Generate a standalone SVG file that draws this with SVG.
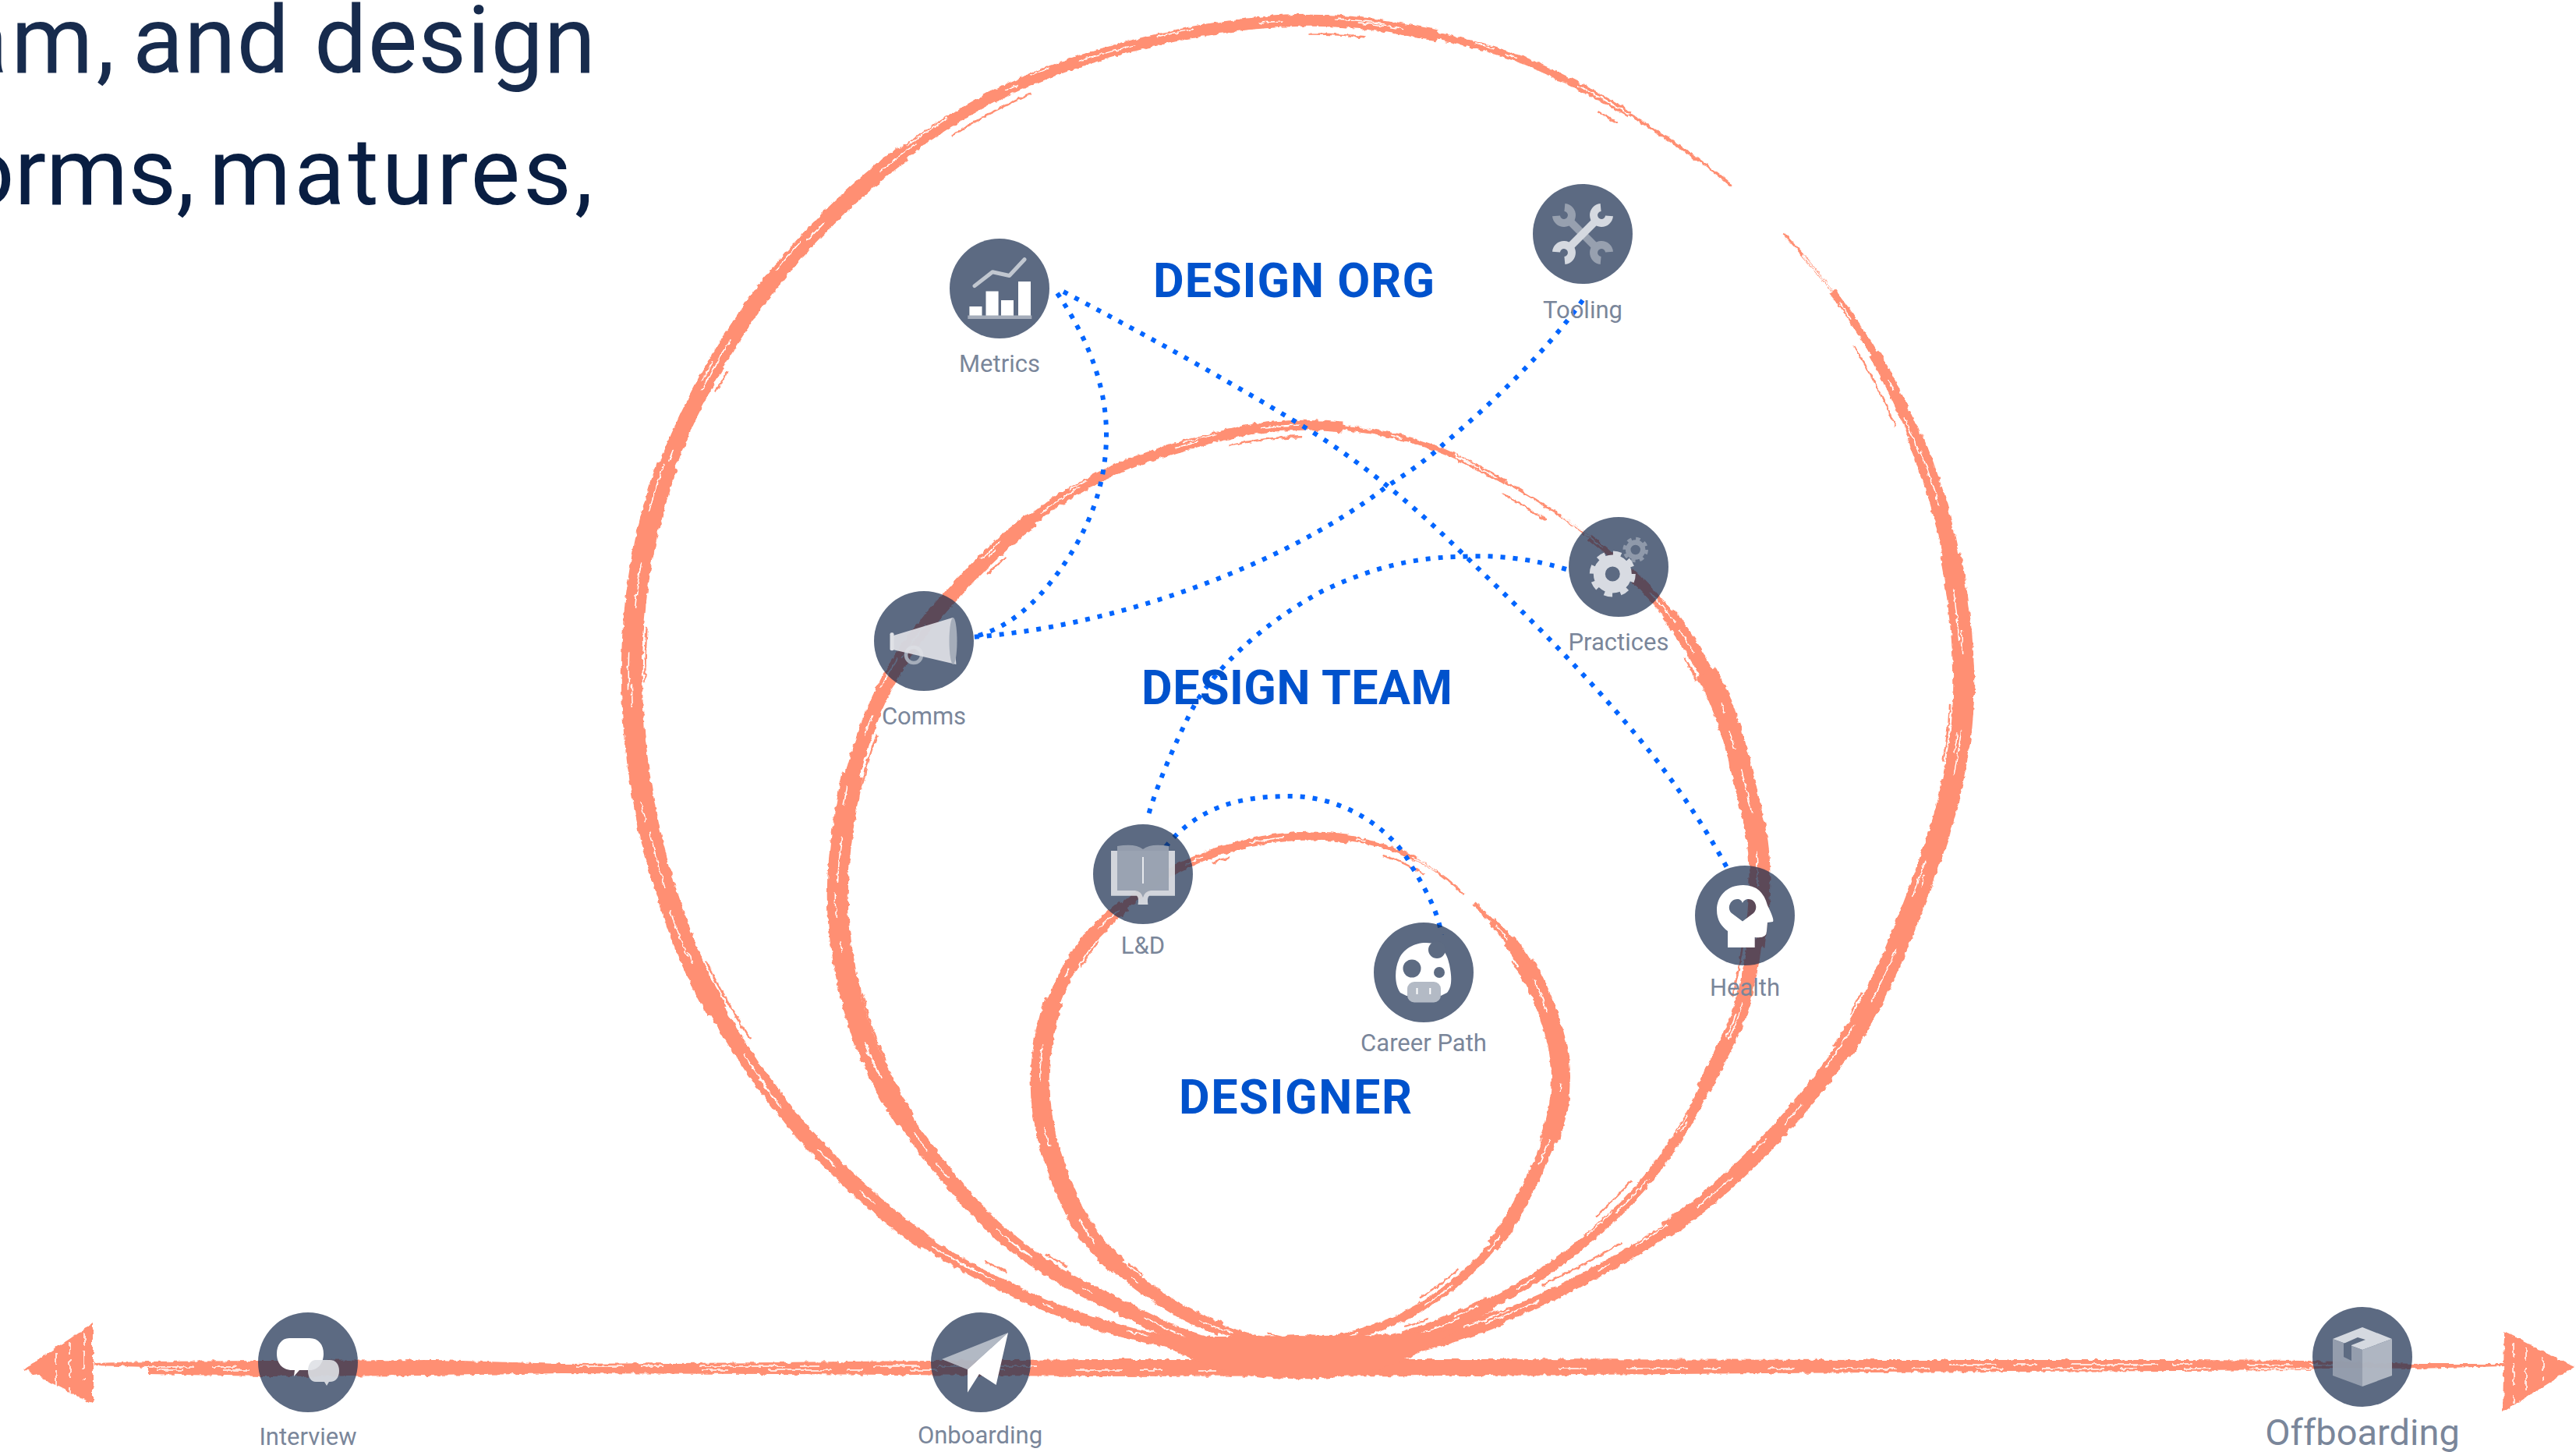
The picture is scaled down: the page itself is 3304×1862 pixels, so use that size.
<svg xmlns="http://www.w3.org/2000/svg" width="3304" height="1862" viewBox="0 0 3304 1862">
<style>
.b{fill:none;stroke:#FF8F73;stroke-linecap:butt;stroke-linejoin:round}
.s{fill:none;stroke:#fff;stroke-width:1.5}
.f{fill:none;stroke:#FF8F73;stroke-width:2.5}
.c{fill:none;stroke:#0065FF;stroke-width:6;stroke-dasharray:6 10}
.disc{fill:#172B4D;opacity:.7}
.lab{font-family:Roboto,"Noto Sans",sans-serif;font-size:31px;fill:#7A869A;text-anchor:middle}
.head{font-family:Roboto,"Noto Sans",sans-serif;font-size:61px;font-weight:700;fill:#0052CC}
.title{font-family:Roboto,"Noto Sans",sans-serif;font-size:120px}
.dk{fill:#5D6B82}
</style>
<defs>
<filter id="rough" filterUnits="userSpaceOnUse" x="0" y="0" width="3304" height="1862">
<feTurbulence type="fractalNoise" baseFrequency="0.13" numOctaves="2" seed="7"/>
<feDisplacementMap in="SourceGraphic" scale="6" xChannelSelector="R" yChannelSelector="G"/>
</filter>
<path id="big" pathLength="1000" d="M1665,1748 Q1500,1725 1428,1704 Q1357,1683 1304,1657 Q1251,1632 1206,1605 Q1162,1579 1124,1545 Q1086,1512 1045,1469 Q1005,1426 967,1371 Q930,1317 900,1260 Q871,1202 846,1116 Q822,1030 814,945 Q806,860 815,775 Q824,689 852,608 Q880,528 935,439 Q990,350 1076,267 Q1162,184 1262,130 Q1363,76 1511,45 Q1660,14 1780,34 Q1900,54 1967,83 Q2034,112 2105,156 Q2177,201 2230,245 Q2284,290 2337,357 Q2391,424 2424,491 Q2458,558 2480,625 Q2502,692 2513,786 Q2524,880 2514,948 Q2504,1015 2488,1066 Q2471,1118 2442,1192 Q2413,1267 2380,1321 Q2346,1376 2301,1428 Q2257,1480 2201,1528 Q2145,1577 2078,1614 Q2012,1652 1956,1676 Q1900,1701 1840,1718 Q1780,1735 1665,1748"/>
<path id="mid" pathLength="1000" d="M1665,1748 Q1540,1725 1500,1707 Q1460,1688 1389,1652 Q1318,1615 1273,1572 Q1229,1529 1188,1474 Q1148,1420 1126,1374 Q1104,1328 1093,1284 Q1082,1240 1077,1197 Q1072,1155 1076,1107 Q1080,1060 1090,1010 Q1100,961 1122,909 Q1144,857 1178,813 Q1213,769 1259,723 Q1305,677 1357,642 Q1409,608 1472,586 Q1535,565 1597,552 Q1660,540 1731,549 Q1802,558 1854,580 Q1907,603 1970,641 Q2033,680 2083,727 Q2133,774 2158,812 Q2183,850 2200,885 Q2217,921 2230,972 Q2243,1024 2252,1068 Q2262,1113 2252,1199 Q2240,1285 2222,1322 Q2204,1359 2183,1402 Q2163,1445 2132,1488 Q2101,1531 2056,1571 Q2012,1612 1967,1640 Q1922,1669 1856,1697 Q1790,1725 1665,1748"/>
<path id="sml" pathLength="1000" d="M1665,1730 Q1580,1712 1540,1694 Q1500,1677 1451,1638 Q1402,1600 1379,1555 Q1357,1510 1343,1460 Q1330,1410 1335,1360 Q1340,1310 1358,1268 Q1377,1227 1402,1198 Q1428,1170 1476,1135 Q1524,1100 1597,1082 Q1671,1065 1741,1077 Q1812,1090 1860,1131 Q1908,1173 1933,1203 Q1959,1233 1980,1285 Q2002,1340 2002,1380 Q2002,1420 1988,1460 Q1973,1500 1946,1550 Q1920,1600 1875,1638 Q1830,1677 1785,1695 Q1741,1713 1665,1730"/>
<g id="wrench" fill="none" stroke="currentColor" stroke-width="10">
<path d="M-7.7,-40.4 A10,10 0 1 0 7.7,-40.4"/>
<path d="M-7.7,40.4 A10,10 0 1 1 7.7,40.4"/>
<path d="M0,-25 V25"/>
</g>
</defs>

<text class="title" y="93" fill="#172B4D"><tspan x="-55" letter-spacing="4">am,</tspan> <tspan x="170" letter-spacing="1">and design</tspan></text>
<text class="title" y="262" fill="#091E42"><tspan x="-50">orms,</tspan> <tspan x="268" letter-spacing="4">matures,</tspan></text>

<g id="brush" filter="url(#rough)">
<path fill="#FF8F73" d="M120,1748 190,1746 340,1745 560,1744 720,1749 1000,1747 1400,1743 1900,1743 2400,1744 2800,1744 2960,1745 3040,1747 3100,1749 3212,1749 3212,1752 3100,1755 3000,1754 2960,1757 2800,1758 2400,1760 1900,1764 1400,1765 1000,1762 720,1761 560,1764 340,1765 190,1762 190,1753 120,1751Z"/>
<path class="s" d="M190,1753H330M740,1752H1330M1380,1757H1560M2500,1750H3000" stroke-dasharray="60 22 30 45 110 18 26 70"/>
<path class="s" d="M200,1757H320M900,1757H1290M2000,1755H3000" stroke-dasharray="35 50 80 20 22 60"/>
<path fill="#FF8F73" d="M31,1756 119,1697 119,1800Z"/>
<path class="s" d="M72,1735V1780M90,1722V1790M108,1710V1770" stroke-dasharray="14 9 22 12"/>
<path fill="#FF8F73" d="M3302,1753 3212,1708 3210,1811Z"/>
<path class="s" d="M3224,1722V1800M3240,1728V1790M3262,1740V1770" stroke-dasharray="18 7 30 12"/>

<g id="ringBig">
<use href="#big" class="b" stroke-width="9" stroke-dasharray="0 0 585 2000"/>
<use href="#big" class="b" stroke-width="4" stroke-dasharray="0 585 30 2000"/>
<use href="#big" class="b" stroke-width="3" stroke-dasharray="0 632 18 2000"/>
<use href="#big" class="b" stroke-width="9" stroke-dasharray="0 650 350 2000"/>
<use href="#big" class="b" stroke-width="15" stroke-dasharray="0 0 535 2000"/>
<use href="#big" class="b" stroke-width="15" stroke-dasharray="0 668 332 2000"/>
<use href="#big" class="b" stroke-width="21" stroke-dasharray="0 95 305 2000"/>
<use href="#big" class="b" stroke-width="21" stroke-dasharray="0 690 215 2000"/>
<use href="#big" class="b" stroke-width="21" stroke-dasharray="0 950 50 2000"/>
<use href="#big" class="b" stroke-width="27" stroke-dasharray="0 170 135 2000"/>
<use href="#big" class="b" stroke-width="27" stroke-dasharray="0 720 125 2000"/>
<use href="#big" class="f" stroke-dasharray="14 60 6 80 22 70" transform="translate(1665 890) scale(.98) translate(-1665 -890)"/>
<use href="#big" class="s" stroke-dasharray="6 18 11 25 3 16 14 30"/>
<use href="#big" class="s" stroke-dasharray="5 27 9 34 12 22" transform="translate(-4 -3)"/>
</g>
<g id="ringMid">
<use href="#mid" class="b" stroke-width="7" stroke-dasharray="0 0 575 2000"/>
<use href="#mid" class="b" stroke-width="3" stroke-dasharray="0 575 35 2000"/>
<use href="#mid" class="b" stroke-width="7" stroke-dasharray="0 610 390 2000"/>
<use href="#mid" class="b" stroke-width="13" stroke-dasharray="0 0 515 2000"/>
<use href="#mid" class="b" stroke-width="13" stroke-dasharray="0 628 372 2000"/>
<use href="#mid" class="b" stroke-width="19" stroke-dasharray="0 0 400 2000"/>
<use href="#mid" class="b" stroke-width="19" stroke-dasharray="0 648 175 2000"/>
<use href="#mid" class="b" stroke-width="19" stroke-dasharray="0 930 70 2000"/>
<use href="#mid" class="b" stroke-width="27" stroke-dasharray="0 165 125 2000"/>
<use href="#mid" class="b" stroke-width="27" stroke-dasharray="0 672 98 2000"/>
<use href="#mid" class="f" stroke-dasharray="18 70 9 90 26 75" transform="translate(1665 1150) scale(.975) translate(-1665 -1150)"/>
<use href="#mid" class="s" stroke-dasharray="8 22 14 32 4 20 16 36"/>
<use href="#mid" class="s" stroke-dasharray="7 36 12 45 9 30" transform="translate(-3 -3)"/>
</g>
<g id="ringSml">
<use href="#sml" class="b" stroke-width="6" stroke-dasharray="0 0 575 2000"/>
<use href="#sml" class="b" stroke-width="3" stroke-dasharray="0 575 37 2000"/>
<use href="#sml" class="b" stroke-width="6" stroke-dasharray="0 620 380 2000"/>
<use href="#sml" class="b" stroke-width="11" stroke-dasharray="0 0 530 2000"/>
<use href="#sml" class="b" stroke-width="11" stroke-dasharray="0 636 364 2000"/>
<use href="#sml" class="b" stroke-width="17" stroke-dasharray="0 50 330 2000"/>
<use href="#sml" class="b" stroke-width="17" stroke-dasharray="0 652 208 2000"/>
<use href="#sml" class="b" stroke-width="24" stroke-dasharray="0 125 180 2000"/>
<use href="#sml" class="b" stroke-width="24" stroke-dasharray="0 670 115 2000"/>
<use href="#sml" class="f" stroke-dasharray="20 90 12 100 30 80" transform="translate(1665 1400) scale(.965) translate(-1665 -1400)"/>
<use href="#sml" class="s" stroke-dasharray="12 30 22 45 6 30 18 50"/>
</g>
<path fill="#FF8F73" d="M1470,1712 Q1590,1716 1665,1712 Q1760,1716 1870,1705 Q1775,1772 1665,1768 Q1560,1770 1470,1712Z"/>
</g>

<g id="connectors">
<path class="c" d="M1356,376 Q1420,470 1419,560 Q1418,660 1345,750 Q1300,805 1247,817"/>
<path class="c" d="M1364,374 C1470,430 1570,485 1672,547 C1745,592 1810,645 1872,706 C1965,795 2050,880 2124,974 C2165,1027 2195,1075 2219,1120"/>
<path class="c" d="M2030,385 C1980,455 1910,520 1851,570 C1830,590 1800,610 1777,625 C1640,730 1420,805 1247,817"/>
<path class="c" d="M2009,730 C1950,712 1900,712 1872,714 C1800,715 1745,735 1696,758 C1610,805 1560,860 1535,899 C1520,925 1485,1000 1471,1052"/>
<path class="c" d="M1495,1086 C1540,1030 1600,1021 1654,1021 C1730,1021 1790,1070 1810,1110 C1835,1150 1845,1175 1849,1199"/>
</g>

<g id="heading-org"><text class="head" x="1479" y="381" textLength="361" lengthAdjust="spacing">DESIGN ORG</text></g>
<g id="heading-team"><text class="head" x="1464" y="903" textLength="399" lengthAdjust="spacing">DESIGN TEAM</text></g>
<g id="heading-designer"><text class="head" x="1512" y="1428" textLength="299" lengthAdjust="spacing">DESIGNER</text></g>

<g id="metrics"><g transform="translate(1282 370)"><circle class="disc" r="64"/>
<path d="M-32,-3.4 L-9,-21.3 12.6,-16.5 32,-37.3" fill="none" stroke="#C1C7D0" stroke-width="5" stroke-linecap="round" stroke-linejoin="round"/>
<path fill="#fff" d="M-38.6,23H-22.5V35H-38.6ZM-17.5,3.4H-1.4V35H-17.5ZM2,15H18V35H2ZM24,-9H40V35H24Z"/>
<rect x="-40.7" y="34.5" width="82" height="4.5" fill="#A5ADBA"/></g>
<text class="lab" x="1282" y="477">Metrics</text></g>

<g id="tooling"><g transform="translate(2030 300)"><circle class="disc" r="64"/>
<use href="#wrench" color="#97A0AF" transform="rotate(-45)"/>
<use href="#wrench" color="#D5D9E0" transform="rotate(45)"/></g>
<text class="lab" x="2030" y="408">Tooling</text></g>

<g id="comms"><g transform="translate(1185 822)"><circle class="disc" r="64"/>
<circle cx="-13" cy="18" r="10" fill="none" stroke="#A5ADBA" stroke-width="4.5"/>
<path fill="#DFE1E6" opacity=".92" d="M-40,-6.8 L37,-30 41.4,30 -40,11Z"/>
<rect x="-43.5" y="-10.7" width="5" height="23" rx="2" fill="#DFE1E6"/>
<ellipse cx="37.5" cy="0" rx="5" ry="30" fill="#A5ADBA"/></g>
<text class="lab" x="1185" y="929">Comms</text></g>

<g id="practices"><g transform="translate(2076 727)"><circle class="disc" r="64"/>
<g fill="none" stroke="#8F99AA"><circle cx="21.7" cy="-22" r="9.5" stroke-width="6.5"/><circle cx="21.7" cy="-22" r="14" stroke-width="4.5" stroke-dasharray="5.5 5.5"/></g>
<g fill="none" stroke="#D8DBE2"><circle cx="-7.7" cy="9" r="17" stroke-width="15"/><circle cx="-7.7" cy="9" r="26" stroke-width="7" stroke-dasharray="10.2 10.2"/></g></g>
<text class="lab" x="2076" y="834">Practices</text></g>

<g id="ld"><g transform="translate(1466 1121)"><circle class="disc" r="64"/>
<path fill="#DFE1E6" opacity=".9" d="M-41,-30H41V27.7H8Q5,30 6.4,39H-6.4Q-5,30 -8,27.7H-41Z"/>
<path fill="#97A0AF" opacity=".95" d="M-33,-36Q-10,-40 0,-32Q10,-40 33,-36V21H10Q2,22 0,30Q-2,22 -10,21H-33Z"/>
<path d="M0,-22V12" stroke="#fff" stroke-width="1.5"/></g>
<text class="lab" x="1466" y="1223">L&amp;D</text></g>

<g id="career"><g transform="translate(1826 1247)"><circle class="disc" r="64"/>
<path fill="#fff" d="M-30,26C-38,15 -37,-5 -32,-16C-27,-30 -12,-38 3,-38C22,-38 30,-25 33,-10C36,5 37,18 30,26L22,30H-22Z"/>
<circle class="dk" cx="17" cy="-29" r="11"/><ellipse class="dk" cx="-15" cy="-5" rx="11.5" ry="11.5"/><ellipse class="dk" cx="20" cy="0" rx="7" ry="7"/>
<rect x="-21" y="12" width="43" height="26.5" rx="9" fill="#B3BAC5"/>
<path d="M-8.5,20V28M8.3,20V28" stroke="#fff" stroke-width="2"/></g>
<text class="lab" x="1826" y="1348">Career Path</text></g>

<g id="health"><g transform="translate(2238 1174)"><circle class="disc" r="64"/>
<path fill="#fff" fill-rule="evenodd" d="M-22,41H12.7V28Q28,30 28,20L29,9L36,8Q38,5 29,-13Q22,-39 -2,-39C-24,-39 -36,-24 -36,-7C-36,6 -30,14 -22,20ZM-3,7.6L-17,-3C-24,-10 -18,-21 -10,-21C-6,-21 -4,-19 -3,-16C-2,-19 1,-21 5,-21C13,-21 18,-10 11,-3Z"/></g>
<text class="lab" x="2238" y="1277">Health</text></g>

<g id="interview"><g transform="translate(395 1747)"><circle class="disc" r="64"/>
<path fill="#fff" d="M-24,-31H2C14,-31 20,-22 20,-11C20,0 14,10 2,10H-11L-18,18L-17,10H-20C-34,10 -40,0 -40,-11C-40,-22 -34,-31 -24,-31Z"/>
<path fill="#DFE1E6" opacity=".9" d="M10,-3H28C36,-3 40,3 40,11C40,19 36,25 28,25H27L24,30L21,25H10C4,25 0,19 0,11C0,3 4,-3 10,-3Z"/></g>
<text class="lab" x="395" y="1853">Interview</text></g>

<g id="onboarding"><g transform="translate(1258 1747)"><circle class="disc" r="64"/>
<path fill="#C1C7D0" opacity=".85" d="M35,-38L-50,-4L-17,9.3Z"/>
<path fill="#fff" d="M35,-38L-17,9.3V38.7L-2,15L19.6,29Z"/></g>
<text class="lab" x="1257" y="1851">Onboarding</text></g>

<g id="offboarding"><g transform="translate(3030 1740)"><circle class="disc" r="64"/>
<path fill="#D5D9E0" d="M-38,-23L0,-38 38,-23 0,-9Z"/>
<path fill="#97A0AF" opacity=".95" d="M-38,-23L0,-9V38L-38,24Z"/>
<path fill="#B3BAC5" opacity=".95" d="M0,-9L38,-23V24L0,38Z"/>
<path class="dk" d="M-24,-17L-6,-25 4,-22 -14,-15V5L-24,0Z"/></g>
<text class="lab" style="font-size:47px" x="3030" y="1853">Offboarding</text></g>
</svg>
